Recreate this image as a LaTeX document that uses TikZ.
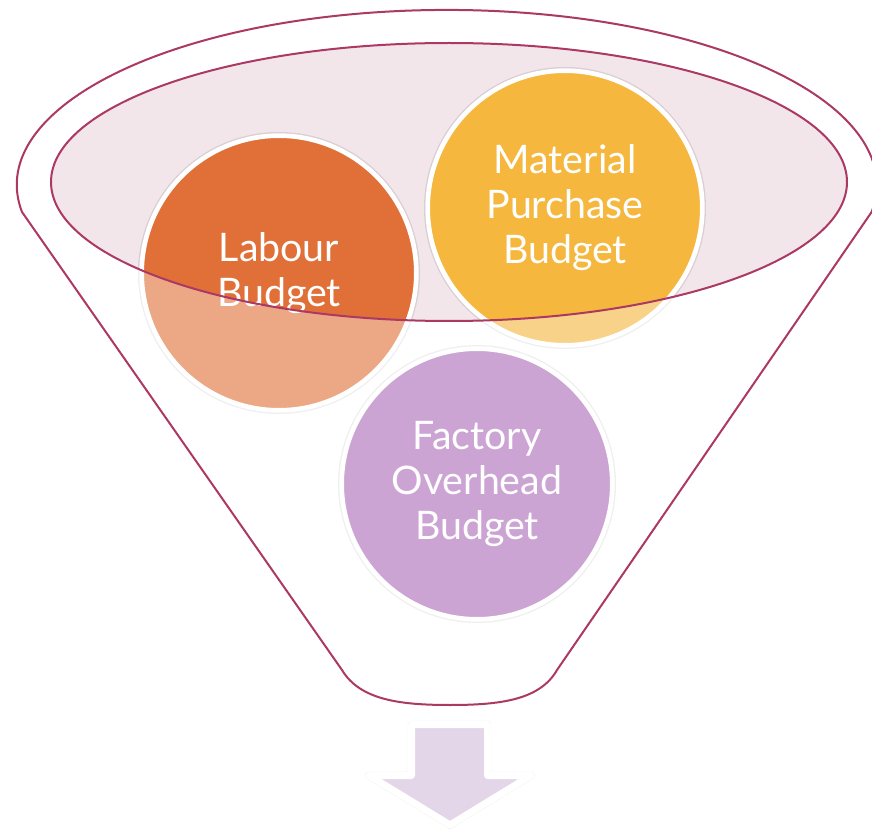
\documentclass[tikz,border=0pt]{standalone}
\usepackage{fontspec}
\setmainfont{Lato}
\usepackage{tikz}
\definecolor{funnelline}{RGB}{172,56,100}
\definecolor{rimfill}{RGB}{242,230,235}
\definecolor{labourcol}{RGB}{224,112,56}
\definecolor{materialcol}{RGB}{245,183,62}
\definecolor{factorycol}{RGB}{173,107,186}
\definecolor{arrowcol}{RGB}{228,214,233}
\tikzstyle{halo}=[preaction={draw=black, draw opacity=0.1, line width=5.5pt, line join=round}]
\tikzstyle{budget}=[circle, halo, draw=white, line width=3.5pt, minimum size=206pt, inner sep=0pt, text=white, align=center, font=\fontsize{29.5pt}{33.75pt}\selectfont]

\begin{document}
\begin{tikzpicture}[x=0.75pt, y=-0.75pt]
                    \useasboundingbox (0, 0) rectangle (872, 831);
                    \fill[rimfill] (449, 182) ellipse [x radius=398, y radius=139];
                    \node[budget, fill=labourcol] (31) at (279, 273) {Labour\\Budget};
                    \node[budget, fill=materialcol] (32) at (565, 208) {Material\\Purchase\\Budget};
                    \node[budget, fill=factorycol, minimum size=203pt] (33) at (477, 484) {Factory\\Overhead\\Budget};
                    \fill[white, opacity=0.39, even odd rule] (0, 0) rectangle (872, 831) (449, 182) ellipse [x radius=398, y radius=139];
                    \draw[funnelline, line width=1.5pt, line join=round] (22, 212) arc [start angle=171.1, end angle=368.9, x radius=430, y radius=175]
                        -- (557, 670) .. controls (540, 700) and (500, 705) .. (450, 705)
                        .. controls (400, 705) and (360, 700) .. (342, 670) -- cycle;
                    \draw[funnelline, line width=1.5pt] (449, 182) ellipse [x radius=398, y radius=139];
                    \draw[line join=round, halo, white, line width=5.25pt, fill=arrowcol] (411.5, 724.5) -- (487.5, 724.5) -- (487.5, 775.5) -- (531, 775.5)
                        -- (450, 825) -- (369, 775.5) -- (411.5, 775.5) -- cycle;
                \end{tikzpicture}
\end{document}
